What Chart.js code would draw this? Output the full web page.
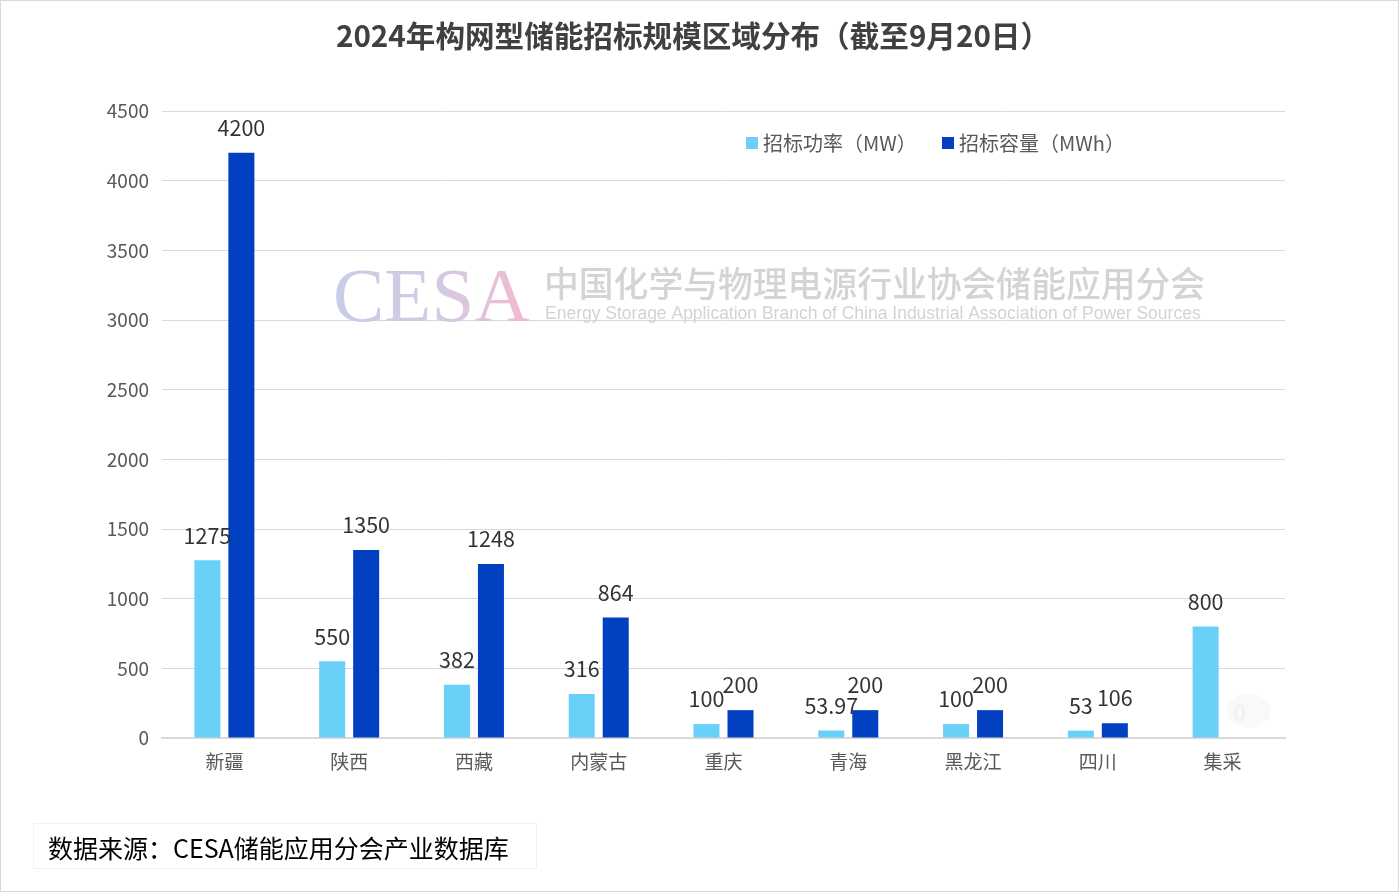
<!DOCTYPE html>
<html>
<head>
<meta charset="utf-8">
<script src="https://cdn.jsdelivr.net/npm/chart.js@4.4.1/dist/chart.umd.min.js"></script>
<style>
  html, body { margin: 0; padding: 0; background: #ffffff; }
  #wrap { position: relative; width: 1399px; height: 892px; box-sizing: border-box; border: 1px solid #d9d9d9; }
  canvas { position: absolute; left: 0; top: 0; }
  #source { position: absolute; left: 32px; top: 822px; width: 504px; height: 46px; border: 1px solid #f2f2f2;
    font-family: "Noto Sans CJK SC", sans-serif; font-size: 25px; color: #000; line-height: 46px; padding-left: 14px; box-sizing: border-box; white-space: nowrap; }
</style>
</head>
<body>
<div id="wrap">
  <canvas id="c" width="1397" height="890"></canvas>
  <div id="source">数据来源：CESA储能应用分会产业数据库</div>
</div>
<script>
const title = "2024年构网型储能招标规模区域分布（截至9月20日）";
const categories = ["新疆", "陕西", "西藏", "内蒙古", "重庆", "青海", "黑龙江", "四川", "集采"];
const powerLabel = "招标功率（MW）";
const capacityLabel = "招标容量（MWh）";
const powerMW = [1275, 550, 382, 316, 100, 53.97, 100, 53, 800];
const capacityMWh = [4200, 1350, 1248, 864, 200, 200, 200, 106, 0];
const yTicks = [0, 500, 1000, 1500, 2000, 2500, 3000, 3500, 4000, 4500];

const FONT = '"Noto Sans CJK SC", "Noto Sans", sans-serif';
const LIGHT = '#69d0f7';
const DARK = '#0040c1';

const overlay = {
  id: 'overlay',
  beforeDatasetsDraw(chart) {
    const ctx = chart.ctx;
    ctx.save();
    const grad = ctx.createLinearGradient(333, 0, 528, 0);
    grad.addColorStop(0, '#c8cde8');
    grad.addColorStop(0.6, '#d6c9e2');
    grad.addColorStop(1, '#f3b9cf');
    ctx.fillStyle = grad;
    ctx.font = '77px "Liberation Serif", serif';
    ctx.textBaseline = 'alphabetic';
    ctx.textAlign = 'left';
    ctx.fillText('CESA', 332, 320);
    ctx.fillStyle = '#d4d4d4';
    ctx.font = '500 34.8px ' + FONT;
    ctx.fillText('中国化学与物理电源行业协会储能应用分会', 543, 296);
    ctx.fillStyle = '#d3d3d3';
    ctx.font = '17.5px "Liberation Sans", Arial, sans-serif';
    ctx.fillText('Energy Storage Application Branch of China Industrial Association of Power Sources', 544, 318);
    ctx.restore();
  },
  afterDatasetsDraw(chart) {
    const ctx = chart.ctx;
    ctx.save();
    ctx.textAlign = 'center';
    ctx.textBaseline = 'middle';
    ctx.font = '21.5px ' + FONT;
    chart.data.datasets.forEach((ds, di) => {
      const meta = chart.getDatasetMeta(di);
      meta.data.forEach((el, i) => {
        const v = ds.data[i];
        if (v === 0) {
          ctx.fillStyle = 'rgba(248,248,248,0.9)';
          ctx.beginPath();
          ctx.ellipse(el.x + 9, el.y - 27, 22, 17, 0, 0, Math.PI * 2);
          ctx.fill();
          ctx.fillStyle = '#efefef';
        } else {
          ctx.fillStyle = '#333333';
        }
        ctx.fillText(String(v), el.x, el.y - 25);
      });
    });
    ctx.restore();
  },
  afterDraw(chart) {
    const ctx = chart.ctx;
    ctx.save();
    ctx.fillStyle = '#404040';
    ctx.font = 'bold 29.6px ' + FONT;
    ctx.textAlign = 'center';
    ctx.textBaseline = 'middle';
    ctx.fillText(title, 692, 35);
    ctx.font = '20px ' + FONT;
    ctx.textAlign = 'left';
    const items = [[LIGHT, powerLabel, 745], [DARK, capacityLabel, 941]];
    items.forEach(([col, txt, x]) => {
      ctx.fillStyle = col;
      ctx.fillRect(x, 136, 12, 12);
      ctx.fillStyle = '#595959';
      ctx.fillText(txt, x + 17, 142);
    });
    ctx.restore();
  }
};

new Chart(document.getElementById('c'), {
  type: 'bar',
  data: {
    labels: categories,
    datasets: [
      { label: powerLabel, data: powerMW, backgroundColor: LIGHT, categoryPercentage: 0.545, barPercentage: 0.765 },
      { label: capacityLabel, data: capacityMWh, backgroundColor: DARK, categoryPercentage: 0.545, barPercentage: 0.765 }
    ]
  },
  options: {
    responsive: false,
    animation: false,
    layout: { padding: { left: 0, right: 113, top: 110, bottom: 0 } },
    plugins: { legend: { display: false }, title: { display: false }, tooltip: { enabled: false } },
    scales: {
      x: {
        grid: { display: false, drawTicks: false },
        border: { color: '#d9d9d9', width: 2 },
        ticks: { color: '#595959', font: { family: FONT, size: 19 }, padding: 12 },
        afterFit(s) { s.height = 890 - 737; }
      },
      y: {
        min: 0, max: 4500,
        afterBuildTicks(s) { s.ticks = yTicks.map(v => ({ value: v })); },
        grid: { color: '#d9d9d9', lineWidth: 1, drawTicks: false },
        border: { display: false },
        ticks: { color: '#595959', font: { family: FONT, size: 19 }, padding: 13, callback: v => String(v) },
        afterFit(s) { s.width = 161; }
      }
    }
  },
  plugins: [overlay]
});
</script>
</body>
</html>
